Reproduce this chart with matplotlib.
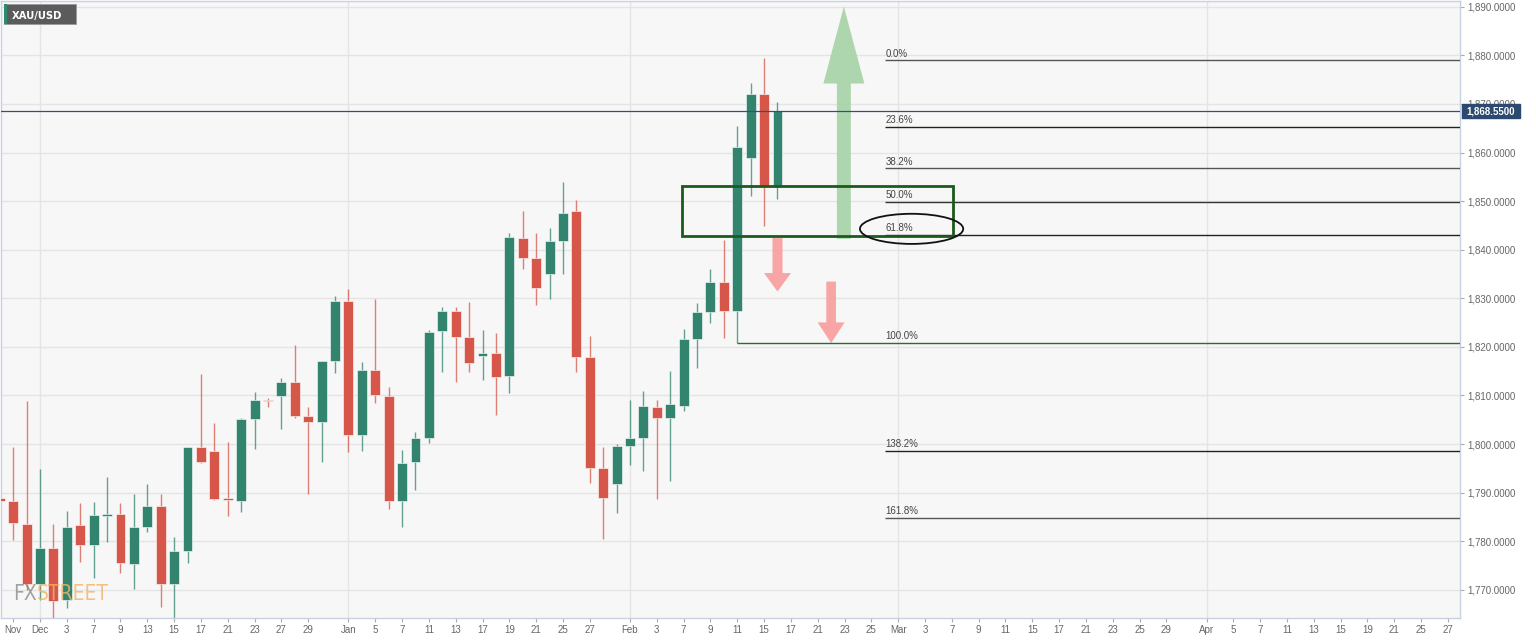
import numpy as np
import matplotlib
matplotlib.use("Agg")
import matplotlib.pyplot as plt
import matplotlib.transforms as mtransforms
from matplotlib.patches import Rectangle, Ellipse, FancyArrow

# daily XAU/USD candles
dates = [
    "2021-11-26", "2021-11-29", "2021-11-30",
    "2021-12-01", "2021-12-02", "2021-12-03", "2021-12-06", "2021-12-07",
    "2021-12-08", "2021-12-09", "2021-12-10", "2021-12-13", "2021-12-14",
    "2021-12-15", "2021-12-16", "2021-12-17", "2021-12-20", "2021-12-21",
    "2021-12-22", "2021-12-23", "2021-12-24", "2021-12-27", "2021-12-28",
    "2021-12-29", "2021-12-30", "2021-12-31",
    "2022-01-03", "2022-01-04", "2022-01-05", "2022-01-06", "2022-01-07",
    "2022-01-10", "2022-01-11", "2022-01-12", "2022-01-13", "2022-01-14",
    "2022-01-17", "2022-01-18", "2022-01-19", "2022-01-20", "2022-01-21",
    "2022-01-24", "2022-01-25", "2022-01-26", "2022-01-27", "2022-01-28",
    "2022-01-31",
    "2022-02-01", "2022-02-02", "2022-02-03", "2022-02-04", "2022-02-07",
    "2022-02-08", "2022-02-09", "2022-02-10", "2022-02-11", "2022-02-14",
    "2022-02-15", "2022-02-16",
]
opens = [
    1788.9, 1788.3, 1783.6,
    1771.2, 1778.6, 1767.9, 1783.4, 1779.3, 1785.2, 1785.6, 1775.3, 1783.0, 1787.3,
    1771.2, 1778.0, 1799.5, 1798.5, 1788.9, 1788.3, 1805.1, 1809.1, 1809.8, 1812.7,
    1805.7, 1804.5, 1817.2,
    1829.5, 1801.9, 1815.3, 1809.8, 1788.3, 1796.4, 1801.3, 1823.2, 1827.4, 1822.0,
    1818.2, 1818.8, 1814.0, 1842.4, 1838.3, 1835.0, 1841.7, 1847.9, 1817.9, 1795.0,
    1791.8,
    1799.7, 1801.2, 1807.7, 1805.3, 1807.9, 1821.7, 1827.2, 1833.3, 1827.3, 1858.9,
    1872.0, 1853.2,
]
highs = [
    1815.7, 1799.4, 1808.9,
    1794.9, 1783.6, 1786.3, 1787.9, 1788.1, 1793.3, 1787.9, 1789.8, 1791.8, 1789.8,
    1780.9, 1799.5, 1814.5, 1804.3, 1800.5, 1805.3, 1810.8, 1809.5, 1813.6, 1820.4,
    1807.7, 1817.2, 1830.4,
    1831.9, 1816.9, 1829.8, 1811.7, 1798.8, 1802.5, 1823.5, 1828.3, 1828.3, 1829.2,
    1823.4, 1822.8, 1843.4, 1848.0, 1843.4, 1844.4, 1853.9, 1850.3, 1822.3, 1799.5,
    1800.0,
    1809.0, 1811.0, 1809.1, 1815.1, 1823.7, 1829.0, 1836.0, 1842.0, 1865.5, 1874.3,
    1879.4, 1870.5,
]
lows = [
    1780.7, 1780.3, 1770.0,
    1768.0, 1764.2, 1766.3, 1775.8, 1772.5, 1779.9, 1773.5, 1770.2, 1781.9, 1766.5,
    1753.0, 1775.5, 1796.1, 1788.5, 1785.1, 1786.0, 1799.0, 1807.6, 1803.1, 1805.3,
    1789.8, 1796.3, 1814.7,
    1798.3, 1798.5, 1808.4, 1786.6, 1783.0, 1790.6, 1800.2, 1814.9, 1812.7, 1814.9,
    1813.2, 1806.0, 1810.5, 1836.0, 1828.7, 1829.8, 1835.0, 1814.9, 1792.0, 1780.4,
    1785.8,
    1795.7, 1794.5, 1788.7, 1792.3, 1806.9, 1815.6, 1824.9, 1821.8, 1820.8, 1851.0,
    1844.8, 1850.4,
]
closes = [
    1788.3, 1783.8, 1771.2,
    1778.6, 1767.7, 1783.0, 1779.3, 1785.4, 1785.6, 1775.5, 1783.0, 1787.3, 1771.2,
    1778.0, 1799.4, 1796.3, 1788.7, 1788.4, 1805.1, 1809.0, 1808.8, 1812.7, 1805.7,
    1804.5, 1817.1, 1829.5,
    1801.9, 1815.3, 1810.1, 1788.3, 1796.1, 1801.2, 1823.0, 1827.4, 1822.1, 1816.7,
    1818.8, 1813.9, 1842.6, 1838.3, 1832.1, 1841.7, 1847.5, 1817.9, 1795.0, 1789.0,
    1799.6,
    1801.2, 1807.9, 1805.3, 1808.2, 1821.6, 1827.1, 1833.3, 1827.3, 1861.2, 1872.0,
    1853.2, 1868.55,
]

tick_dates = [
    "2021-11-29",
    "2021-12-01", "2021-12-03", "2021-12-07", "2021-12-09", "2021-12-13", "2021-12-15",
    "2021-12-17", "2021-12-21", "2021-12-23", "2021-12-27", "2021-12-29",
    "2022-01-03", "2022-01-05", "2022-01-07", "2022-01-11", "2022-01-13", "2022-01-17",
    "2022-01-19", "2022-01-21", "2022-01-25", "2022-01-27",
    "2022-02-01", "2022-02-03", "2022-02-07", "2022-02-09", "2022-02-11", "2022-02-15",
    "2022-02-17", "2022-02-21", "2022-02-23", "2022-02-25",
    "2022-03-01", "2022-03-03", "2022-03-07", "2022-03-09", "2022-03-11", "2022-03-15",
    "2022-03-17", "2022-03-21", "2022-03-23", "2022-03-25", "2022-03-29",
    "2022-04-01", "2022-04-05", "2022-04-07", "2022-04-11", "2022-04-13", "2022-04-15",
    "2022-04-19", "2022-04-21", "2022-04-25", "2022-04-27",
]
tick_labels = [
    "Nov",
    "Dec", "3", "7", "9", "13", "15", "17", "21", "23", "27", "29",
    "Jan", "5", "7", "11", "13", "17", "19", "21", "25", "27",
    "Feb", "3", "7", "9", "11", "15", "17", "21", "23", "25",
    "Mar", "3", "7", "9", "11", "15", "17", "21", "23", "25", "29",
    "Apr", "5", "7", "11", "13", "15", "19", "21", "25", "27",
]
month_starts = ["2021-12-01", "2022-01-03", "2022-02-01", "2022-03-01", "2022-04-01"]

last_price = 1868.55
fib_high = 1879.0
fib_low = 1820.8
fib_ratios = [0.0, 0.236, 0.382, 0.5, 0.618, 1.0, 1.382, 1.618]
fib_labels = ["0.0%", "23.6%", "38.2%", "50.0%", "61.8%", "100.0%", "138.2%", "161.8%"]
fib_colors = ["#555555", "#222222", "#555555", "#333333", "#222222", "#2e6b2e", "#222222", "#555555"]

GREEN = "#33846f"
RED = "#d6574a"


def day_index(d):
    # trading days counted from 1 Dec 2021
    return np.busday_count("2021-12-01", d)


x = np.array([day_index(d) for d in dates], dtype=float)
o = np.array(opens)
h = np.array(highs)
l = np.array(lows)
c = np.array(closes)
up = c >= o

fig = plt.figure(figsize=(15.36, 6.41), dpi=100)
fig.patch.set_facecolor("white")
ax = fig.add_axes([1 / 1536, 1 - 618 / 641, 1459 / 1536, 617 / 641])
ax.set_facecolor("#f7f7f7")

ax.set_xlim(-2.91, 105.9)
ax.set_ylim(1764.2, 1891.2)

# grid
ax.set_yticks(np.arange(1770, 1891, 10))
ax.grid(axis="y", color="#e4e4e4", lw=1)
for m in month_starts:
    ax.axvline(day_index(m), color="#e4e4e4", lw=1, zorder=0)

# candles
cols = np.where(up, GREEN, RED)
ax.vlines(x, l, h, colors=cols, lw=1, alpha=0.75, zorder=2)
bottoms = np.minimum(o, c)
heights = np.maximum(np.abs(c - o), 0.3)
ax.bar(x, heights, bottom=bottoms, width=0.74, color=cols,
       edgecolor="#ffffff", linewidth=0.4, zorder=3)

# last price line
ax.axhline(last_price, color="#34507a", lw=0.9, zorder=4)

# fibonacci retracement
for r, lab, col in zip(fib_ratios, fib_labels, fib_colors):
    lev = fib_high - r * (fib_high - fib_low)
    start = day_index("2022-02-11") if r == 1.0 else 63.0
    ax.hlines(lev, start, 105.9, colors=col, lw=1, zorder=4)
    ax.text(63.05, lev + 0.35, lab, fontsize=7, color="#444444",
            family="Liberation Sans", va="bottom", ha="left", zorder=5)

# arrows
ax.add_patch(FancyArrow(59.95, 1842.25, 0, 1890.06 - 1842.25, width=1.04,
                        head_width=3.06, head_length=15.85, length_includes_head=True,
                        color="#a6d3a6", alpha=0.9, lw=0, zorder=3))
ax.add_patch(FancyArrow(55.0, 1842.4, 0, 1831.4 - 1842.4, width=0.75,
                        head_width=2.01, head_length=3.8, length_includes_head=True,
                        color="#f79c9c", alpha=0.9, lw=0, zorder=3))
ax.add_patch(FancyArrow(59.0, 1833.45, 0, 1820.8 - 1833.45, width=0.72,
                        head_width=2.01, head_length=4.24, length_includes_head=True,
                        color="#f79c9c", alpha=0.9, lw=0, zorder=3))

# support zone and 61.8% highlight
ax.add_patch(Rectangle((47.9, 1842.9), 20.16, 10.3, fill=False,
                       ec="#1d5a1d", lw=2, zorder=6))
ax.add_patch(Ellipse((65.0, 1844.3), 7.7, 6.2, fill=False, ec="#111111",
                     lw=1.3, zorder=6))

# axes styling
for s in ax.spines.values():
    s.set_color("#c8d0e2")
    s.set_linewidth(1)
ax.yaxis.tick_right()
ax.yaxis.set_major_formatter(matplotlib.ticker.FuncFormatter(lambda v, p: f"{v:,.4f}"))
ax.set_xticks([day_index(d) for d in tick_dates])
ax.set_xticklabels(tick_labels)
ax.tick_params(axis="both", length=3, color="#aaaaaa", labelcolor="#666666",
               labelsize=7)
ax.tick_params(axis="y", pad=2)
ax.tick_params(axis="x", pad=2)
for t in ax.get_xticklabels() + ax.get_yticklabels():
    t.set_family("Liberation Sans")

# last price label on the axis
blend = mtransforms.blended_transform_factory(fig.transFigure, ax.transData)
ax.add_patch(Rectangle((1462 / 1536, last_price - 1.44), 58 / 1536, 2.88,
                       transform=blend, fc="#2c4a70", ec="#2c4a70",
                       clip_on=False, zorder=10))
ax.text(1491 / 1536, last_price, "1,868.5500", transform=blend, color="white",
        fontsize=7, fontweight="bold", family="Liberation Sans",
        ha="center", va="center", clip_on=False, zorder=11)

# symbol tag
fig.patches.append(Rectangle((4 / 1536, 1 - 24.3 / 641), 72 / 1536, 20.3 / 641,
                             transform=fig.transFigure, fc="#5b5b5b", ec="#9a9a9a",
                             lw=0.6, zorder=10))
fig.patches.append(Rectangle((4 / 1536, 1 - 24.3 / 641), 2.7 / 1536, 20.3 / 641,
                             transform=fig.transFigure, fc="#2e8b6e", lw=0,
                             zorder=11))
fig.text(37 / 1536, 1 - 15.5 / 641, "XAU/USD", color="white", fontsize=7.2,
         fontweight="bold", ha="center", va="center", zorder=12)

# watermark: "STREET" placed right after the measured end of "FX"
wm_y = 1 - 600 / 641
fx = fig.text(13 / 1536, wm_y, "FX", color="#7d7d7d", alpha=0.7,
              fontsize=15, family="DejaVu Sans", fontstretch="condensed",
              va="baseline", zorder=12)
fig.canvas.draw()
fx_end = fx.get_window_extent().x1 / 1536
fig.text(fx_end + 0.5 / 1536, wm_y, "STREET", color="#f2b565", alpha=0.8,
         fontsize=15, family="DejaVu Sans", fontstretch="condensed",
         va="baseline", zorder=12)

fig.savefig("out.png", dpi=100)
